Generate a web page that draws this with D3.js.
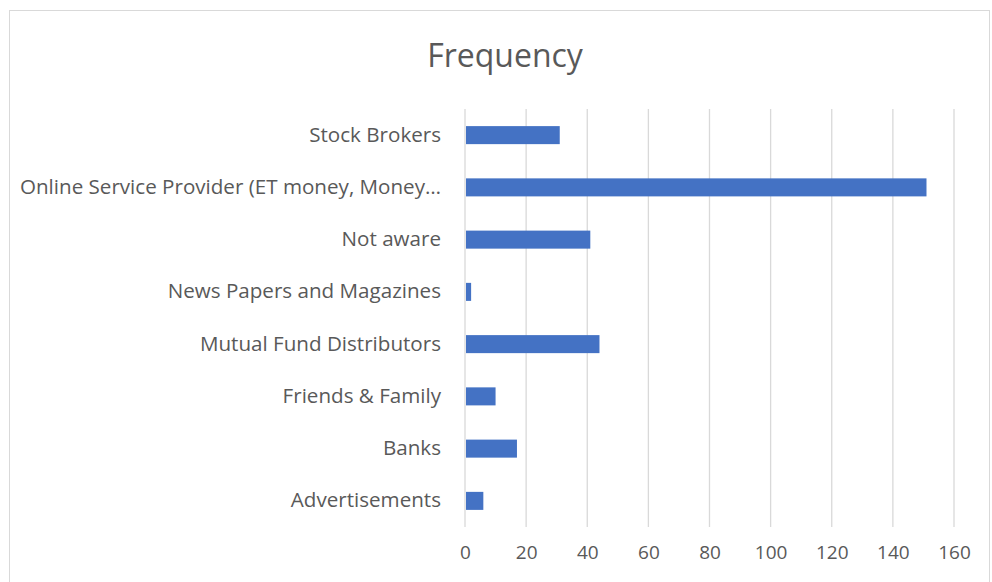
<!DOCTYPE html>
<html>
<head>
<meta charset="utf-8">
<script src="https://cdn.jsdelivr.net/npm/d3@7"></script>
<style>
  body { margin: 0; background: #fff; }
  text { font-family: "Open Sans", sans-serif; fill: #595959; }
</style>
</head>
<body>
<script>
// categories top to bottom
var categories = ["Stock Brokers", "Online Service Provider (ET money, Money\u2026",
                  "Not aware", "News Papers and Magazines", "Mutual Fund Distributors",
                  "Friends & Family", "Banks", "Advertisements"];
var frequency = [31, 151, 41, 2, 44, 10, 17, 6];
var xTicks = [0, 20, 40, 60, 80, 100, 120, 140, 160];

var w = 992;
var h = 582;
var plotLeft = 465, plotRight = 954, plotTop = 109, plotBottom = 527;

var svg = d3.select("body")
            .append("svg")
            .attr("width", w)
            .attr("height", h);

// chart area border
svg.append("rect")
   .attr("x", 9.5).attr("y", 10.5)
   .attr("width", 980).attr("height", 600)
   .attr("fill", "none")
   .attr("stroke", "#d9d9d9");

var x = d3.scaleLinear().domain([0, 160]).range([plotLeft, plotRight]);
var y = d3.scaleBand().domain(categories).range([plotTop, plotBottom]).paddingInner(0.655).paddingOuter(0.3275);

// gridlines
svg.selectAll("line.grid")
   .data(xTicks)
   .enter()
   .append("line")
   .attr("class", "grid")
   .attr("x1", function(d) { return x(d); })
   .attr("x2", function(d) { return x(d); })
   .attr("y1", plotTop)
   .attr("y2", plotBottom)
   .attr("stroke", "#d9d9d9")
   .attr("stroke-width", 1.3);

// bars
svg.selectAll("rect.bar")
   .data(frequency)
   .enter()
   .append("rect")
   .attr("class", "bar")
   .attr("x", x(0) + 1)
   .attr("y", function(d, i) { return y(categories[i]); })
   .attr("width", function(d) { return x(d) - x(0) - 1; })
   .attr("height", y.bandwidth())
   .attr("fill", "#4472c4");

// x axis labels
var xAxis = d3.axisBottom(x).tickValues(xTicks).tickSize(0).tickPadding(0);
var gx = svg.append("g").attr("transform", "translate(0," + 545 + ")").call(xAxis);
gx.select(".domain").remove();
gx.selectAll("text").attr("font-size", "19px").attr("dy", "0.71em").style("fill", "#595959");

// category labels
var yAxis = d3.axisLeft(y).tickSize(0).tickPadding(24);
var gy = svg.append("g").attr("transform", "translate(" + plotLeft + ",0)").call(yAxis);
gy.select(".domain").remove();
gy.selectAll("text").attr("font-size", "20.6px").style("fill", "#595959");

// title
svg.append("text")
   .attr("x", 505)
   .attr("y", 67)
   .attr("text-anchor", "middle")
   .attr("font-size", "32px")
   .text("Frequency");
</script>
</body>
</html>
